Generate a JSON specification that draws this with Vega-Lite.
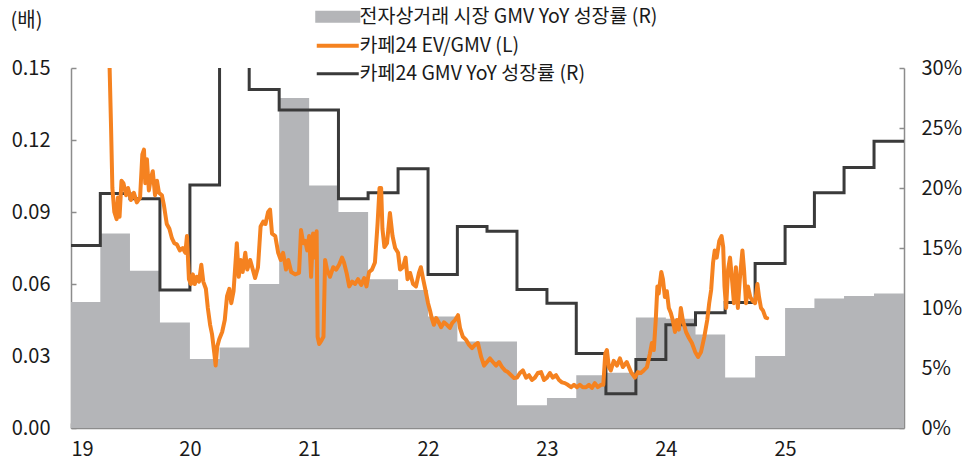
{
  "$schema": "https://vega.github.io/schema/vega-lite/v6.json",
  "width": 833,
  "height": 360,
  "autosize": {"type": "none"},
  "padding": {"left": 71, "top": 68, "right": 72, "bottom": 35},
  "config": {
    "font": "Noto Sans CJK KR",
    "view": {"stroke": null},
    "axis": {
      "grid": false,
      "domainColor": "#8c8c8c",
      "domainWidth": 1.5,
      "tickColor": "#8c8c8c",
      "tickWidth": 1.5,
      "tickSize": -5,
      "labelFontSize": 20,
      "labelColor": "#1a1a1a",
      "labelFont": "Noto Sans CJK KR",
      "titleFont": "Noto Sans CJK KR"
    },
    "legend": {
      "labelFont": "Noto Sans CJK KR"
    }
  },
  "datasets": {
    "quarterly": [
      {"date": "2019-01-01", "market": 10.5, "cafe24": 15.2},
      {"date": "2019-04-01", "market": 16.2, "cafe24": 19.55},
      {"date": "2019-07-01", "market": 13.1, "cafe24": 19.1},
      {"date": "2019-10-01", "market": 8.8, "cafe24": 11.5},
      {"date": "2020-01-01", "market": 5.75, "cafe24": 20.25},
      {"date": "2020-04-01", "market": 6.7, "cafe24": 38},
      {"date": "2020-07-01", "market": 12.0, "cafe24": 28.2},
      {"date": "2020-10-01", "market": 27.5, "cafe24": 26.5},
      {"date": "2021-01-01", "market": 20.2, "cafe24": 26.5},
      {"date": "2021-04-01", "market": 18.0, "cafe24": 19.1},
      {"date": "2021-07-01", "market": 12.4, "cafe24": 19.6},
      {"date": "2021-10-01", "market": 11.5, "cafe24": 21.6},
      {"date": "2022-01-01", "market": 9.3, "cafe24": 12.8},
      {"date": "2022-04-01", "market": 7.2, "cafe24": 16.8},
      {"date": "2022-07-01", "market": 7.2, "cafe24": 16.4},
      {"date": "2022-10-01", "market": 1.9, "cafe24": 11.55},
      {"date": "2023-01-01", "market": 2.5, "cafe24": 10.4},
      {"date": "2023-04-01", "market": 4.4, "cafe24": 6.2},
      {"date": "2023-07-01", "market": 4.6, "cafe24": 2.85},
      {"date": "2023-10-01", "market": 9.2, "cafe24": 5.7},
      {"date": "2024-01-01", "market": 9.1, "cafe24": 8.6},
      {"date": "2024-04-01", "market": 7.8, "cafe24": 9.6},
      {"date": "2024-07-01", "market": 4.2, "cafe24": 10.45},
      {"date": "2024-10-01", "market": 6.0, "cafe24": 13.7},
      {"date": "2025-01-01", "market": 10.0, "cafe24": 16.8},
      {"date": "2025-04-01", "market": 10.8, "cafe24": 19.6},
      {"date": "2025-07-01", "market": 11.0, "cafe24": 21.7},
      {"date": "2025-10-01", "market": 11.2, "cafe24": 23.9},
      {"date": "2026-01-01", "market": 11.2, "cafe24": 23.9}
    ],
    "evgmv": [
      {"date": "2019-04-29", "v": 0.153}, {"date": "2019-05-04", "v": 0.125}, {"date": "2019-05-08", "v": 0.100}, {"date": "2019-05-14", "v": 0.090},
      {"date": "2019-05-21", "v": 0.087}, {"date": "2019-05-25", "v": 0.096}, {"date": "2019-05-30", "v": 0.088}, {"date": "2019-06-05", "v": 0.103},
      {"date": "2019-06-11", "v": 0.102}, {"date": "2019-06-19", "v": 0.097}, {"date": "2019-06-25", "v": 0.100}, {"date": "2019-07-04", "v": 0.095},
      {"date": "2019-07-13", "v": 0.098}, {"date": "2019-07-22", "v": 0.094}, {"date": "2019-08-01", "v": 0.096}, {"date": "2019-08-08", "v": 0.114},
      {"date": "2019-08-13", "v": 0.116}, {"date": "2019-08-17", "v": 0.102}, {"date": "2019-08-22", "v": 0.112}, {"date": "2019-08-28", "v": 0.099},
      {"date": "2019-09-03", "v": 0.104}, {"date": "2019-09-09", "v": 0.107}, {"date": "2019-09-16", "v": 0.097}, {"date": "2019-09-22", "v": 0.103},
      {"date": "2019-09-28", "v": 0.098}, {"date": "2019-10-07", "v": 0.097}, {"date": "2019-10-13", "v": 0.093}, {"date": "2019-10-22", "v": 0.085},
      {"date": "2019-10-30", "v": 0.083}, {"date": "2019-11-07", "v": 0.079}, {"date": "2019-11-14", "v": 0.077}, {"date": "2019-11-22", "v": 0.0765},
      {"date": "2019-12-01", "v": 0.074}, {"date": "2019-12-10", "v": 0.075}, {"date": "2019-12-18", "v": 0.073}, {"date": "2019-12-23", "v": 0.080},
      {"date": "2019-12-29", "v": 0.062},
      {"date": "2020-01-04", "v": 0.060}, {"date": "2020-01-10", "v": 0.064}, {"date": "2020-01-16", "v": 0.060}, {"date": "2020-01-22", "v": 0.063},
      {"date": "2020-01-29", "v": 0.061}, {"date": "2020-02-05", "v": 0.068}, {"date": "2020-02-11", "v": 0.061}, {"date": "2020-02-19", "v": 0.058},
      {"date": "2020-02-25", "v": 0.050}, {"date": "2020-03-03", "v": 0.043}, {"date": "2020-03-09", "v": 0.039}, {"date": "2020-03-16", "v": 0.031},
      {"date": "2020-03-20", "v": 0.026}, {"date": "2020-03-25", "v": 0.034}, {"date": "2020-03-31", "v": 0.037}, {"date": "2020-04-09", "v": 0.040},
      {"date": "2020-04-17", "v": 0.045}, {"date": "2020-04-24", "v": 0.055}, {"date": "2020-05-01", "v": 0.058}, {"date": "2020-05-07", "v": 0.052},
      {"date": "2020-05-14", "v": 0.057}, {"date": "2020-05-24", "v": 0.077}, {"date": "2020-05-30", "v": 0.063}, {"date": "2020-06-05", "v": 0.070},
      {"date": "2020-06-11", "v": 0.065}, {"date": "2020-06-19", "v": 0.073}, {"date": "2020-06-25", "v": 0.066}, {"date": "2020-07-04", "v": 0.070},
      {"date": "2020-07-12", "v": 0.066}, {"date": "2020-07-19", "v": 0.0625}, {"date": "2020-07-28", "v": 0.067}, {"date": "2020-08-05", "v": 0.084},
      {"date": "2020-08-13", "v": 0.086}, {"date": "2020-08-20", "v": 0.085}, {"date": "2020-08-28", "v": 0.090}, {"date": "2020-09-03", "v": 0.091},
      {"date": "2020-09-09", "v": 0.081}, {"date": "2020-09-19", "v": 0.080}, {"date": "2020-09-28", "v": 0.073}, {"date": "2020-10-06", "v": 0.070},
      {"date": "2020-10-13", "v": 0.073}, {"date": "2020-10-22", "v": 0.066}, {"date": "2020-10-29", "v": 0.070}, {"date": "2020-11-07", "v": 0.065},
      {"date": "2020-11-19", "v": 0.064}, {"date": "2020-12-01", "v": 0.0646}, {"date": "2020-12-07", "v": 0.0825}, {"date": "2020-12-14", "v": 0.077},
      {"date": "2020-12-20", "v": 0.078}, {"date": "2020-12-26", "v": 0.074},
      {"date": "2021-01-01", "v": 0.080}, {"date": "2021-01-07", "v": 0.063}, {"date": "2021-01-13", "v": 0.081}, {"date": "2021-01-19", "v": 0.071},
      {"date": "2021-01-24", "v": 0.082}, {"date": "2021-01-27", "v": 0.038}, {"date": "2021-02-01", "v": 0.035}, {"date": "2021-02-08", "v": 0.0365},
      {"date": "2021-02-14", "v": 0.038}, {"date": "2021-02-19", "v": 0.070}, {"date": "2021-02-25", "v": 0.066}, {"date": "2021-03-06", "v": 0.063},
      {"date": "2021-03-16", "v": 0.067}, {"date": "2021-03-25", "v": 0.066}, {"date": "2021-04-03", "v": 0.068}, {"date": "2021-04-12", "v": 0.071},
      {"date": "2021-04-18", "v": 0.069}, {"date": "2021-04-26", "v": 0.0646}, {"date": "2021-05-04", "v": 0.059}, {"date": "2021-05-13", "v": 0.061},
      {"date": "2021-05-22", "v": 0.060}, {"date": "2021-05-31", "v": 0.062}, {"date": "2021-06-10", "v": 0.0596}, {"date": "2021-06-19", "v": 0.0625},
      {"date": "2021-06-26", "v": 0.059}, {"date": "2021-07-04", "v": 0.065}, {"date": "2021-07-13", "v": 0.066}, {"date": "2021-07-22", "v": 0.069},
      {"date": "2021-07-30", "v": 0.085}, {"date": "2021-08-05", "v": 0.100}, {"date": "2021-08-10", "v": 0.100}, {"date": "2021-08-14", "v": 0.083},
      {"date": "2021-08-20", "v": 0.0754}, {"date": "2021-08-28", "v": 0.077}, {"date": "2021-09-06", "v": 0.0896}, {"date": "2021-09-14", "v": 0.080},
      {"date": "2021-09-22", "v": 0.075}, {"date": "2021-10-01", "v": 0.073}, {"date": "2021-10-07", "v": 0.066}, {"date": "2021-10-16", "v": 0.067},
      {"date": "2021-10-24", "v": 0.071}, {"date": "2021-10-30", "v": 0.062}, {"date": "2021-11-07", "v": 0.0646}, {"date": "2021-11-16", "v": 0.060},
      {"date": "2021-11-25", "v": 0.059}, {"date": "2021-12-04", "v": 0.0646}, {"date": "2021-12-10", "v": 0.067}, {"date": "2021-12-17", "v": 0.062},
      {"date": "2021-12-24", "v": 0.0575},
      {"date": "2022-01-01", "v": 0.052}, {"date": "2022-01-07", "v": 0.049}, {"date": "2022-01-12", "v": 0.046}, {"date": "2022-01-19", "v": 0.043},
      {"date": "2022-01-26", "v": 0.0458}, {"date": "2022-02-04", "v": 0.0437}, {"date": "2022-02-10", "v": 0.042}, {"date": "2022-02-19", "v": 0.044},
      {"date": "2022-02-28", "v": 0.043}, {"date": "2022-03-09", "v": 0.0417}, {"date": "2022-03-16", "v": 0.0437}, {"date": "2022-03-25", "v": 0.045},
      {"date": "2022-04-03", "v": 0.047}, {"date": "2022-04-09", "v": 0.0417}, {"date": "2022-04-18", "v": 0.038}, {"date": "2022-04-28", "v": 0.0367},
      {"date": "2022-05-07", "v": 0.0346}, {"date": "2022-05-16", "v": 0.0333}, {"date": "2022-05-25", "v": 0.0346}, {"date": "2022-06-03", "v": 0.0354},
      {"date": "2022-06-13", "v": 0.0296}, {"date": "2022-06-22", "v": 0.026}, {"date": "2022-07-01", "v": 0.0275}, {"date": "2022-07-10", "v": 0.029},
      {"date": "2022-07-19", "v": 0.0275}, {"date": "2022-07-29", "v": 0.026}, {"date": "2022-08-07", "v": 0.0275}, {"date": "2022-08-16", "v": 0.0254},
      {"date": "2022-08-25", "v": 0.024}, {"date": "2022-09-03", "v": 0.0233}, {"date": "2022-09-13", "v": 0.022}, {"date": "2022-09-22", "v": 0.0208},
      {"date": "2022-10-01", "v": 0.021}, {"date": "2022-10-10", "v": 0.0229}, {"date": "2022-10-19", "v": 0.024}, {"date": "2022-10-29", "v": 0.021},
      {"date": "2022-11-07", "v": 0.022}, {"date": "2022-11-16", "v": 0.020}, {"date": "2022-11-25", "v": 0.021}, {"date": "2022-12-04", "v": 0.0229},
      {"date": "2022-12-14", "v": 0.0233}, {"date": "2022-12-23", "v": 0.020},
      {"date": "2023-01-01", "v": 0.021}, {"date": "2023-01-10", "v": 0.0229}, {"date": "2023-01-19", "v": 0.021}, {"date": "2023-01-29", "v": 0.022},
      {"date": "2023-02-07", "v": 0.020}, {"date": "2023-02-16", "v": 0.019}, {"date": "2023-02-25", "v": 0.0187}, {"date": "2023-03-06", "v": 0.018},
      {"date": "2023-03-16", "v": 0.017}, {"date": "2023-03-25", "v": 0.018}, {"date": "2023-04-03", "v": 0.017}, {"date": "2023-04-12", "v": 0.018},
      {"date": "2023-04-21", "v": 0.017}, {"date": "2023-05-01", "v": 0.017}, {"date": "2023-05-10", "v": 0.018}, {"date": "2023-05-19", "v": 0.0167},
      {"date": "2023-05-28", "v": 0.0187}, {"date": "2023-06-06", "v": 0.017}, {"date": "2023-06-16", "v": 0.018}, {"date": "2023-06-23", "v": 0.018},
      {"date": "2023-06-29", "v": 0.031}, {"date": "2023-07-04", "v": 0.0325}, {"date": "2023-07-10", "v": 0.0254}, {"date": "2023-07-16", "v": 0.024},
      {"date": "2023-07-25", "v": 0.028}, {"date": "2023-08-04", "v": 0.026}, {"date": "2023-08-13", "v": 0.029}, {"date": "2023-08-22", "v": 0.0254},
      {"date": "2023-09-03", "v": 0.0275}, {"date": "2023-09-16", "v": 0.0233}, {"date": "2023-09-28", "v": 0.021}, {"date": "2023-10-07", "v": 0.0233},
      {"date": "2023-10-16", "v": 0.0229}, {"date": "2023-10-25", "v": 0.024}, {"date": "2023-11-04", "v": 0.0254}, {"date": "2023-11-13", "v": 0.031},
      {"date": "2023-11-19", "v": 0.0354}, {"date": "2023-11-25", "v": 0.0325}, {"date": "2023-12-01", "v": 0.045}, {"date": "2023-12-06", "v": 0.059},
      {"date": "2023-12-10", "v": 0.056}, {"date": "2023-12-18", "v": 0.065}, {"date": "2023-12-23", "v": 0.062}, {"date": "2023-12-29", "v": 0.0546},
      {"date": "2024-01-04", "v": 0.057}, {"date": "2024-01-10", "v": 0.050}, {"date": "2024-01-16", "v": 0.048}, {"date": "2024-01-22", "v": 0.045},
      {"date": "2024-01-29", "v": 0.040}, {"date": "2024-02-04", "v": 0.045}, {"date": "2024-02-10", "v": 0.041}, {"date": "2024-02-16", "v": 0.050},
      {"date": "2024-02-22", "v": 0.045}, {"date": "2024-03-03", "v": 0.040}, {"date": "2024-03-12", "v": 0.0375}, {"date": "2024-03-21", "v": 0.0354},
      {"date": "2024-03-31", "v": 0.0317}, {"date": "2024-04-09", "v": 0.0296}, {"date": "2024-04-18", "v": 0.0317}, {"date": "2024-04-28", "v": 0.038},
      {"date": "2024-05-07", "v": 0.045}, {"date": "2024-05-13", "v": 0.052}, {"date": "2024-05-19", "v": 0.0575}, {"date": "2024-05-25", "v": 0.069},
      {"date": "2024-05-30", "v": 0.074}, {"date": "2024-06-05", "v": 0.071}, {"date": "2024-06-13", "v": 0.078}, {"date": "2024-06-20", "v": 0.080},
      {"date": "2024-06-25", "v": 0.0754}, {"date": "2024-06-29", "v": 0.059}, {"date": "2024-07-04", "v": 0.050}, {"date": "2024-07-10", "v": 0.066},
      {"date": "2024-07-16", "v": 0.071}, {"date": "2024-07-22", "v": 0.062}, {"date": "2024-07-28", "v": 0.052}, {"date": "2024-08-03", "v": 0.067},
      {"date": "2024-08-09", "v": 0.050}, {"date": "2024-08-15", "v": 0.062}, {"date": "2024-08-23", "v": 0.074}, {"date": "2024-08-28", "v": 0.066},
      {"date": "2024-09-03", "v": 0.052}, {"date": "2024-09-09", "v": 0.059}, {"date": "2024-09-16", "v": 0.0546}, {"date": "2024-09-23", "v": 0.053},
      {"date": "2024-10-01", "v": 0.052}, {"date": "2024-10-08", "v": 0.060}, {"date": "2024-10-13", "v": 0.0546}, {"date": "2024-10-19", "v": 0.050},
      {"date": "2024-10-25", "v": 0.049}, {"date": "2024-11-02", "v": 0.046}, {"date": "2024-11-07", "v": 0.0458}
    ]
  },
  "layer": [
    {
      "data": {"name": "quarterly"},
      "layer": [
        {
          "mark": {"type": "area", "interpolate": "step-after", "clip": true},
          "encoding": {
            "x": {
              "field": "date", "type": "temporal",
              "scale": {"type": "utc", "domain": [{"year": 2019, "month": 1, "date": 1, "utc": true}, {"year": 2026, "month": 1, "date": 1, "utc": true}]},
              "axis": {
                "title": null, "format": "%y", "labelPadding": 16,
                "values": [
                  {"year": 2019, "month": 1, "date": 1, "utc": true},
                  {"year": 2020, "month": 1, "date": 1, "utc": true},
                  {"year": 2021, "month": 1, "date": 1, "utc": true},
                  {"year": 2022, "month": 1, "date": 1, "utc": true},
                  {"year": 2023, "month": 1, "date": 1, "utc": true},
                  {"year": 2024, "month": 1, "date": 1, "utc": true},
                  {"year": 2025, "month": 1, "date": 1, "utc": true}
                ]
              }
            },
            "y": {
              "field": "market", "type": "quantitative",
              "scale": {"domain": [0, 30], "nice": false},
              "axis": {"orient": "right", "title": null, "values": [0, 5, 10, 15, 20, 25, 30], "labelExpr": "datum.value + '%'", "labelPadding": 22}
            },
            "color": {
              "datum": "전자상거래 시장 GMV YoY 성장률 (R)", "type": "nominal",
              "scale": {"domain": ["전자상거래 시장 GMV YoY 성장률 (R)", "카페24 EV/GMV (L)", "카페24 GMV YoY 성장률 (R)"], "range": ["#b4b5b8", "#f58220", "#3a3a3a"]},
              "legend": {
                "title": null, "orient": "none", "legendX": 257, "legendY": -61, "direction": "vertical",
                "padding": 0, "symbolSize": 1764, "symbolType": "stroke", "labelFontSize": 19.5, "labelColor": "#1a1a1a",
                "labelOffset": 12, "labelLimit": 0, "rowPadding": 7,
                "encode": {
                  "symbols": {
                    "update": {
                      "shape": {"signal": "datum.value === '전자상거래 시장 GMV YoY 성장률 (R)' ? 'M-1,-0.22H1V0.22H-1Z' : 'stroke'"},
                      "fill": {"signal": "datum.value === '전자상거래 시장 GMV YoY 성장률 (R)' ? '#b4b5b8' : 'transparent'"},
                      "stroke": {"signal": "datum.value === '전자상거래 시장 GMV YoY 성장률 (R)' ? 'transparent' : (datum.value === '카페24 EV/GMV (L)' ? '#f58220' : '#3a3a3a')"},
                      "strokeWidth": {"signal": "datum.value === '카페24 EV/GMV (L)' ? 4 : 3"},
                      "opacity": {"value": 1}
                    }
                  }
                }
              }
            }
          }
        },
        {
          "mark": {"type": "line", "interpolate": "step-after", "clip": true, "strokeWidth": 3},
          "encoding": {
            "x": {"field": "date", "type": "temporal"},
            "y": {"field": "cafe24", "type": "quantitative"},
            "color": {"datum": "카페24 GMV YoY 성장률 (R)", "type": "nominal"}
          }
        }
      ]
    },
    {
      "data": {"name": "evgmv"},
      "mark": {"type": "line", "clip": true, "strokeWidth": 4, "strokeJoin": "round", "strokeCap": "round"},
      "encoding": {
        "x": {"field": "date", "type": "temporal"},
        "y": {
          "field": "v", "type": "quantitative",
          "scale": {"domain": [0, 0.15], "nice": false},
          "axis": {
            "orient": "left", "values": [0, 0.03, 0.06, 0.09, 0.12, 0.15], "format": ".2f", "labelPadding": 26,
            "title": "(배)", "titleAngle": 0, "titleAlign": "left", "titleBaseline": "middle",
            "titleX": -61, "titleY": -48, "titleFontSize": 20, "titleFontWeight": "normal", "titleColor": "#1a1a1a"
          }
        },
        "color": {"datum": "카페24 EV/GMV (L)", "type": "nominal"}
      }
    }
  ],
  "resolve": {"scale": {"y": "independent"}}
}
